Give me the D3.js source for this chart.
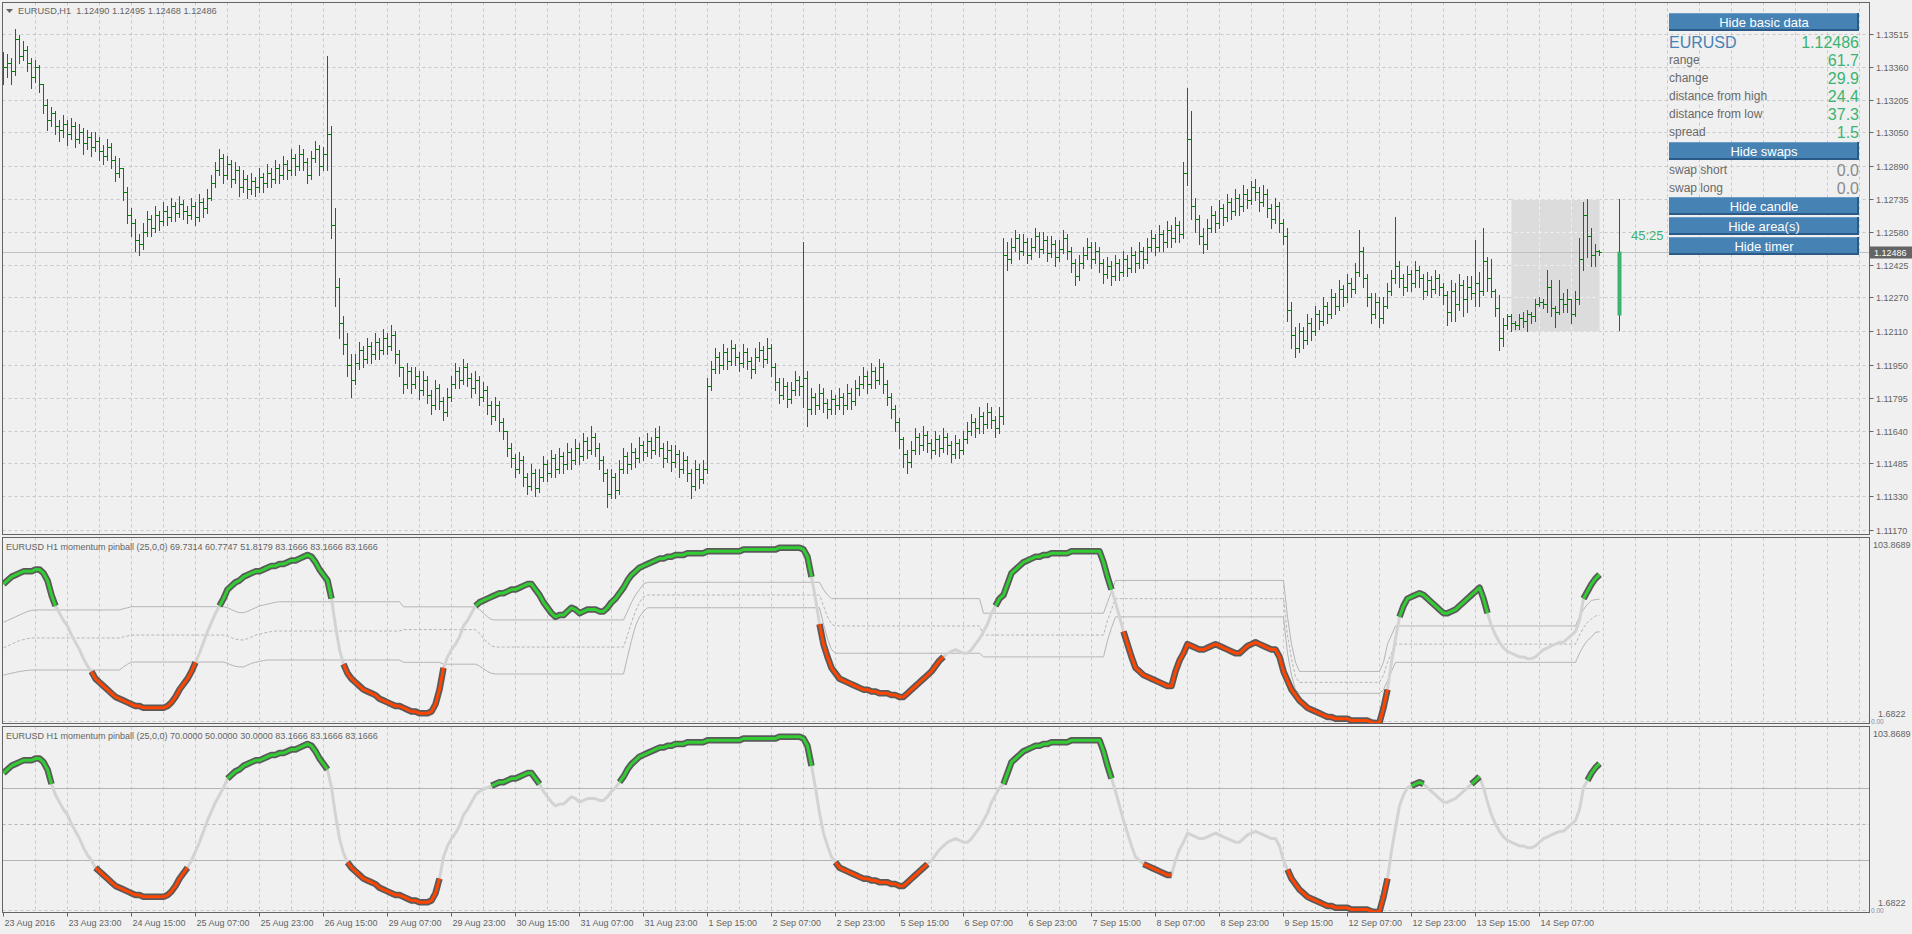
<!DOCTYPE html>
<html><head><meta charset="utf-8">
<script src="https://cdn.jsdelivr.net/npm/d3@7/dist/d3.min.js"></script>
<style>html,body{margin:0;padding:0;background:#F0F0F0;overflow:hidden}svg{display:block}text{font-family:"Liberation Sans",Arial,sans-serif;white-space:pre}</style>
</head><body><svg id="chart" width="1912" height="934"></svg>
<script>
const opens=[
1.1332,1.1336,1.1338,1.1334,1.1349,1.1341,1.1344,1.1338,1.1331,1.1336,
1.1328,1.1318,1.1311,1.1314,1.1308,1.1306,1.1309,1.1304,1.1308,1.1302,
1.1305,1.1300,1.1303,1.1298,1.1301,1.1296,1.1294,1.1298,1.1292,1.1286,
1.1288,1.1277,1.1266,1.1262,1.1254,1.1252,1.1258,1.1264,1.1260,1.1266,
1.1263,1.1268,1.1265,1.1270,1.1267,1.1271,1.1268,1.1266,1.1270,1.1265,
1.1272,1.1269,1.1274,1.1281,1.1287,1.1293,1.1285,1.1290,1.1283,1.1287,
1.1279,1.1283,1.1278,1.1282,1.1279,1.1284,1.1281,1.1286,1.1283,1.1288,
1.1285,1.1290,1.1287,1.1293,1.1289,1.1295,1.1291,1.1285,1.1293,1.1297,
1.1289,1.1295,1.1304,1.1261,1.1232,1.1215,1.1205,1.1195,1.1188,1.1196,
1.1202,1.1198,1.1204,1.1200,1.1206,1.1202,1.1208,1.1204,1.1209,1.1200,
1.1194,1.1186,1.1192,1.1186,1.1190,1.1183,1.1188,1.1181,1.1176,1.1184,
1.1178,1.1173,1.1180,1.1186,1.1192,1.1188,1.1194,1.1189,1.1184,1.1188,
1.1180,1.1183,1.1176,1.1171,1.1176,1.1168,1.1164,1.1156,1.1151,1.1146,
1.1150,1.1142,1.1138,1.1144,1.1137,1.1142,1.1148,1.1144,1.1151,1.1146,
1.1152,1.1148,1.1154,1.1150,1.1156,1.1152,1.1159,1.1155,1.1161,1.1156,
1.1150,1.1144,1.1134,1.1142,1.1136,1.1146,1.1152,1.1148,1.1154,1.1151,
1.1157,1.1154,1.1159,1.1155,1.1161,1.1156,1.1151,1.1155,1.1149,1.1153,
1.1146,1.1150,1.1144,1.1138,1.1146,1.1141,1.1146,1.1185,1.1193,1.1199,
1.1195,1.1201,1.1197,1.1203,1.1199,1.1196,1.1201,1.1197,1.1193,1.1199,
1.1202,1.1198,1.1203,1.1194,1.1187,1.1181,1.1185,1.1179,1.1183,1.1188,
1.1185,1.1189,1.1174,1.1180,1.1176,1.1182,1.1177,1.1174,1.1179,1.1176,
1.1180,1.1176,1.1182,1.1178,1.1184,1.1186,1.1190,1.1186,1.1192,1.1188,
1.1194,1.1186,1.1180,1.1174,1.1168,1.1160,1.1153,1.1149,1.1155,1.1161,
1.1157,1.1162,1.1158,1.1155,1.1160,1.1156,1.1161,1.1157,1.1153,1.1158,
1.1155,1.1160,1.1164,1.1168,1.1165,1.1171,1.1167,1.1173,1.1169,1.1165,
1.1171,1.1247,1.1245,1.1251,1.1255,1.1249,1.1253,1.1247,1.1251,1.1256,
1.1250,1.1254,1.1248,1.1252,1.1246,1.1250,1.1255,1.1249,1.1243,1.1237,
1.1243,1.1247,1.1251,1.1245,1.1249,1.1243,1.1238,1.1242,1.1237,1.1243,
1.1239,1.1245,1.1241,1.1247,1.1243,1.1249,1.1245,1.1251,1.1255,1.1251,
1.1257,1.1253,1.1259,1.1255,1.1261,1.1257,1.1286,1.1302,1.1270,1.1264,
1.1256,1.1252,1.1260,1.1266,1.1262,1.1269,1.1265,1.1272,1.1268,1.1274,
1.1270,1.1276,1.1273,1.1279,1.1277,1.1272,1.1276,1.1269,1.1264,1.1270,
1.1262,1.1256,1.1221,1.1209,1.1203,1.1211,1.1207,1.1215,1.1211,1.1219,
1.1216,1.1223,1.1219,1.1227,1.1223,1.1231,1.1227,1.1234,1.1231,1.1239,
1.1249,1.1236,1.1227,1.1219,1.1225,1.1217,1.1223,1.1230,1.1236,1.1242,
1.1236,1.1232,1.1238,1.1234,1.1240,1.1236,1.1230,1.1235,1.1231,1.1236,
1.1232,1.1228,1.1220,1.1230,1.1224,1.1233,1.1226,1.1232,1.1229,1.1234,
1.1230,1.1244,1.1236,1.1230,1.1222,1.1208,1.1214,1.1218,1.1215,1.1214,
1.1217,1.1216,1.1219,1.1218,1.1224,1.1225,1.1224,1.1232,1.1222,1.1220,
1.1226,1.1224,1.1226,1.1219,1.1226,1.1245,1.1266,1.1256,1.1247,1.1249];
const highs=[
1.1343,1.1342,1.1340,1.1354,1.1351,1.1348,1.1346,1.1340,1.1339,1.1337,
1.1328,1.1321,1.1317,1.1315,1.1311,1.1313,1.1311,1.1312,1.1310,1.1309,
1.1307,1.1306,1.1305,1.1305,1.1303,1.1299,1.1302,1.1300,1.1294,1.1293,
1.1288,1.1279,1.1269,1.1264,1.1257,1.1262,1.1268,1.1266,1.1270,1.1268,
1.1272,1.1270,1.1274,1.1272,1.1275,1.1273,1.1270,1.1274,1.1272,1.1276,
1.1274,1.1278,1.1285,1.1291,1.1297,1.1295,1.1294,1.1292,1.1291,1.1289,
1.1287,1.1285,1.1286,1.1284,1.1288,1.1286,1.1290,1.1288,1.1292,1.1290,
1.1294,1.1292,1.1297,1.1295,1.1299,1.1297,1.1293,1.1296,1.1301,1.1299,
1.1298,1.1341,1.1308,1.1269,1.1236,1.1218,1.1210,1.1200,1.1200,1.1206,
1.1204,1.1208,1.1206,1.1210,1.1208,1.1212,1.1210,1.1214,1.1211,1.1202,
1.1194,1.1196,1.1194,1.1194,1.1192,1.1192,1.1190,1.1183,1.1188,1.1186,
1.1180,1.1184,1.1190,1.1196,1.1194,1.1198,1.1196,1.1191,1.1192,1.1190,
1.1187,1.1185,1.1178,1.1180,1.1178,1.1170,1.1164,1.1158,1.1153,1.1154,
1.1152,1.1144,1.1148,1.1146,1.1146,1.1152,1.1150,1.1155,1.1153,1.1156,
1.1154,1.1158,1.1156,1.1160,1.1158,1.1163,1.1161,1.1166,1.1163,1.1158,
1.1152,1.1146,1.1146,1.1144,1.1150,1.1156,1.1154,1.1158,1.1156,1.1161,
1.1159,1.1163,1.1161,1.1165,1.1166,1.1158,1.1159,1.1157,1.1157,1.1155,
1.1154,1.1152,1.1146,1.1150,1.1148,1.1150,1.1189,1.1197,1.1203,1.1201,
1.1205,1.1203,1.1207,1.1205,1.1201,1.1205,1.1203,1.1199,1.1203,1.1206,
1.1204,1.1208,1.1205,1.1196,1.1189,1.1189,1.1187,1.1187,1.1192,1.1190,
1.1253,1.1192,1.1184,1.1182,1.1186,1.1184,1.1179,1.1183,1.1181,1.1184,
1.1182,1.1186,1.1184,1.1188,1.1190,1.1194,1.1192,1.1196,1.1194,1.1198,
1.1196,1.1188,1.1182,1.1176,1.1170,1.1161,1.1155,1.1159,1.1165,1.1163,
1.1166,1.1164,1.1160,1.1164,1.1162,1.1165,1.1163,1.1159,1.1162,1.1160,
1.1164,1.1168,1.1172,1.1170,1.1175,1.1173,1.1177,1.1175,1.1171,1.1175,
1.1255,1.1253,1.1255,1.1259,1.1257,1.1257,1.1255,1.1255,1.1260,1.1258,
1.1258,1.1256,1.1256,1.1254,1.1254,1.1259,1.1257,1.1251,1.1245,1.1247,
1.1251,1.1255,1.1253,1.1253,1.1251,1.1245,1.1246,1.1244,1.1247,1.1245,
1.1249,1.1247,1.1251,1.1249,1.1253,1.1251,1.1255,1.1259,1.1257,1.1261,
1.1259,1.1263,1.1261,1.1265,1.1263,1.1291,1.1326,1.1315,1.1274,1.1266,
1.1260,1.1264,1.1270,1.1268,1.1273,1.1271,1.1276,1.1274,1.1278,1.1276,
1.1280,1.1278,1.1282,1.1283,1.1279,1.1280,1.1278,1.1271,1.1274,1.1272,
1.1264,1.1260,1.1225,1.1213,1.1215,1.1213,1.1219,1.1217,1.1223,1.1221,
1.1227,1.1225,1.1231,1.1229,1.1235,1.1233,1.1238,1.1236,1.1243,1.1259,
1.1251,1.1238,1.1229,1.1229,1.1227,1.1227,1.1234,1.1240,1.1265,1.1244,
1.1238,1.1242,1.1240,1.1244,1.1242,1.1238,1.1239,1.1237,1.1240,1.1238,
1.1234,1.1230,1.1235,1.1234,1.1238,1.1235,1.1237,1.1237,1.1254,1.1239,
1.1260,1.1246,1.1245,1.1231,1.1228,1.1217,1.1219,1.1219,1.1216,1.1219,
1.1220,1.1221,1.1220,1.1226,1.1227,1.1226,1.1240,1.1235,1.1223,1.1235,
1.1229,1.1231,1.1226,1.1230,1.1255,1.1272,1.12735,1.1260,1.1252,1.12495];
const lows=[
1.1328,1.1331,1.1328,1.1332,1.1338,1.1339,1.1334,1.1326,1.1329,1.1324,
1.1314,1.1306,1.1308,1.1304,1.1301,1.1303,1.1299,1.1302,1.1298,1.1300,
1.1295,1.1297,1.1294,1.1296,1.1292,1.1290,1.1292,1.1288,1.1282,1.1284,
1.1273,1.1262,1.1256,1.1249,1.1247,1.1250,1.1256,1.1256,1.1258,1.1259,
1.1261,1.1261,1.1263,1.1263,1.1265,1.1264,1.1262,1.1264,1.1261,1.1263,
1.1265,1.1267,1.1273,1.1279,1.1285,1.1281,1.1283,1.1279,1.1281,1.1275,
1.1277,1.1274,1.1276,1.1275,1.1277,1.1277,1.1279,1.1279,1.1281,1.1281,
1.1283,1.1283,1.1285,1.1285,1.1287,1.1287,1.1281,1.1283,1.1291,1.1285,
1.1287,1.1287,1.1255,1.1223,1.1208,1.1200,1.1190,1.1180,1.1186,1.1193,
1.1194,1.1196,1.1196,1.1198,1.1198,1.1200,1.1200,1.1202,1.1196,1.1190,
1.1182,1.1184,1.1182,1.1184,1.1179,1.1181,1.1177,1.1172,1.1174,1.1174,
1.1169,1.1171,1.1178,1.1184,1.1184,1.1186,1.1185,1.1180,1.1182,1.1176,
1.1178,1.1172,1.1167,1.1169,1.1164,1.1160,1.1152,1.1147,1.1142,1.1144,
1.1138,1.1134,1.1136,1.1133,1.1135,1.1140,1.1140,1.1142,1.1142,1.1144,
1.1144,1.1146,1.1146,1.1148,1.1148,1.1150,1.1151,1.1153,1.1152,1.1146,
1.1140,1.1128,1.1132,1.1132,1.1134,1.1144,1.1144,1.1146,1.1147,1.1149,
1.1150,1.1152,1.1151,1.1153,1.1152,1.1147,1.1149,1.1145,1.1147,1.1142,
1.1144,1.1140,1.1132,1.1136,1.1137,1.1139,1.1144,1.1183,1.1191,1.1191,
1.1193,1.1193,1.1195,1.1195,1.1192,1.1194,1.1193,1.1189,1.1191,1.1197,
1.1194,1.1196,1.1190,1.1183,1.1177,1.1179,1.1175,1.1177,1.1181,1.1181,
1.1175,1.1166,1.1172,1.1172,1.1174,1.1173,1.1170,1.1172,1.1172,1.1174,
1.1172,1.1174,1.1174,1.1176,1.1181,1.1184,1.1182,1.1184,1.1184,1.1186,
1.1182,1.1176,1.1170,1.1164,1.1156,1.1147,1.1144,1.1147,1.1153,1.1153,
1.1155,1.1154,1.1151,1.1153,1.1152,1.1154,1.1153,1.1149,1.1151,1.1151,
1.1153,1.1158,1.1162,1.1161,1.1163,1.1163,1.1165,1.1165,1.1161,1.1163,
1.1167,1.1240,1.1243,1.1249,1.1245,1.1247,1.1243,1.1245,1.1249,1.1246,
1.1248,1.1244,1.1246,1.1242,1.1244,1.1248,1.1245,1.1239,1.1233,1.1235,
1.1241,1.1245,1.1241,1.1243,1.1239,1.1234,1.1236,1.1233,1.1235,1.1235,
1.1237,1.1237,1.1239,1.1239,1.1241,1.1241,1.1243,1.1249,1.1247,1.1249,
1.1249,1.1251,1.1251,1.1253,1.1253,1.1255,1.1280,1.1264,1.1258,1.1252,
1.1248,1.1250,1.1258,1.1258,1.1260,1.1261,1.1263,1.1264,1.1266,1.1266,
1.1268,1.1269,1.1271,1.1273,1.1268,1.1270,1.1265,1.1260,1.1262,1.1258,
1.1252,1.1216,1.1203,1.1199,1.1201,1.1203,1.1205,1.1207,1.1209,1.1212,
1.1214,1.1215,1.1217,1.1219,1.1221,1.1223,1.1225,1.1227,1.1229,1.1237,
1.1232,1.1223,1.1215,1.1217,1.1213,1.1215,1.1222,1.1228,1.1234,1.1232,
1.1228,1.1230,1.1230,1.1232,1.1232,1.1226,1.1228,1.1227,1.1229,1.1228,
1.1224,1.1214,1.1216,1.1216,1.1221,1.1218,1.1220,1.1226,1.1223,1.1223,
1.1228,1.1230,1.1227,1.1218,1.1202,1.1204,1.1212,1.1211,1.1212,1.1212,
1.1213,1.1211,1.1215,1.1216,1.1223,1.1222,1.1220,1.1218,1.1213,1.1219,
1.1220,1.1220,1.1215,1.1218,1.1224,1.1240,1.1246,1.1242,1.1242,1.12468];
const closes=[
1.1336,1.1338,1.1334,1.1349,1.1341,1.1344,1.1338,1.1331,1.1336,1.1328,
1.1318,1.1311,1.1314,1.1308,1.1306,1.1309,1.1304,1.1308,1.1302,1.1305,
1.1300,1.1303,1.1298,1.1301,1.1296,1.1294,1.1298,1.1292,1.1286,1.1288,
1.1277,1.1266,1.1262,1.1254,1.1252,1.1258,1.1264,1.1260,1.1266,1.1263,
1.1268,1.1265,1.1270,1.1267,1.1271,1.1268,1.1266,1.1270,1.1265,1.1272,
1.1269,1.1274,1.1281,1.1287,1.1293,1.1285,1.1290,1.1283,1.1287,1.1279,
1.1283,1.1278,1.1282,1.1279,1.1284,1.1281,1.1286,1.1283,1.1288,1.1285,
1.1290,1.1287,1.1293,1.1289,1.1295,1.1291,1.1285,1.1293,1.1297,1.1289,
1.1295,1.1304,1.1261,1.1232,1.1215,1.1205,1.1195,1.1188,1.1196,1.1202,
1.1198,1.1204,1.1200,1.1206,1.1202,1.1208,1.1204,1.1209,1.1200,1.1194,
1.1186,1.1192,1.1186,1.1190,1.1183,1.1188,1.1181,1.1176,1.1184,1.1178,
1.1173,1.1180,1.1186,1.1192,1.1188,1.1194,1.1189,1.1184,1.1188,1.1180,
1.1183,1.1176,1.1171,1.1176,1.1168,1.1164,1.1156,1.1151,1.1146,1.1150,
1.1142,1.1138,1.1144,1.1137,1.1142,1.1148,1.1144,1.1151,1.1146,1.1152,
1.1148,1.1154,1.1150,1.1156,1.1152,1.1159,1.1155,1.1161,1.1156,1.1150,
1.1144,1.1134,1.1142,1.1136,1.1146,1.1152,1.1148,1.1154,1.1151,1.1157,
1.1154,1.1159,1.1155,1.1161,1.1156,1.1151,1.1155,1.1149,1.1153,1.1146,
1.1150,1.1144,1.1138,1.1146,1.1141,1.1146,1.1185,1.1193,1.1199,1.1195,
1.1201,1.1197,1.1203,1.1199,1.1196,1.1201,1.1197,1.1193,1.1199,1.1202,
1.1198,1.1203,1.1194,1.1187,1.1181,1.1185,1.1179,1.1183,1.1188,1.1185,
1.1189,1.1174,1.1180,1.1176,1.1182,1.1177,1.1174,1.1179,1.1176,1.1180,
1.1176,1.1182,1.1178,1.1184,1.1186,1.1190,1.1186,1.1192,1.1188,1.1194,
1.1186,1.1180,1.1174,1.1168,1.1160,1.1153,1.1149,1.1155,1.1161,1.1157,
1.1162,1.1158,1.1155,1.1160,1.1156,1.1161,1.1157,1.1153,1.1158,1.1155,
1.1160,1.1164,1.1168,1.1165,1.1171,1.1167,1.1173,1.1169,1.1165,1.1171,
1.1247,1.1245,1.1251,1.1255,1.1249,1.1253,1.1247,1.1251,1.1256,1.1250,
1.1254,1.1248,1.1252,1.1246,1.1250,1.1255,1.1249,1.1243,1.1237,1.1243,
1.1247,1.1251,1.1245,1.1249,1.1243,1.1238,1.1242,1.1237,1.1243,1.1239,
1.1245,1.1241,1.1247,1.1243,1.1249,1.1245,1.1251,1.1255,1.1251,1.1257,
1.1253,1.1259,1.1255,1.1261,1.1257,1.1286,1.1302,1.1270,1.1264,1.1256,
1.1252,1.1260,1.1266,1.1262,1.1269,1.1265,1.1272,1.1268,1.1274,1.1270,
1.1276,1.1273,1.1279,1.1277,1.1272,1.1276,1.1269,1.1264,1.1270,1.1262,
1.1256,1.1221,1.1209,1.1203,1.1211,1.1207,1.1215,1.1211,1.1219,1.1216,
1.1223,1.1219,1.1227,1.1223,1.1231,1.1227,1.1234,1.1231,1.1239,1.1249,
1.1236,1.1227,1.1219,1.1225,1.1217,1.1223,1.1230,1.1236,1.1242,1.1236,
1.1232,1.1238,1.1234,1.1240,1.1236,1.1230,1.1235,1.1231,1.1236,1.1232,
1.1228,1.1220,1.1230,1.1224,1.1233,1.1226,1.1232,1.1229,1.1234,1.1230,
1.1244,1.1236,1.1230,1.1222,1.1208,1.1214,1.1218,1.1215,1.1214,1.1217,
1.1216,1.1219,1.1218,1.1224,1.1225,1.1224,1.1232,1.1222,1.1220,1.1226,
1.1224,1.1226,1.1219,1.1226,1.1245,1.1266,1.1256,1.1247,1.1249,1.12486];

const pinball=[
78,80,82,83,84,85,85,85,86,86, 84,80,72,66,62,58,55,50,46,42,
37,33,30,26,24,22,20,18,16,15, 14,13,12,11,11,10,10,10,10,10,
10,11,13,16,20,23,26,30,35,40, 46,52,57,62,66,70,75,77,79,80,
82,83,84,85,85,86,87,88,88,89, 89,90,91,91,92,93,94,93,90,86,
83,80,70,55,42,34,29,26,24,22, 20,19,18,17,15,14,13,12,11,11,
10,9,8,8,7,7,7,8,12,20, 32,38,42,45,49,55,58,62,66,68,
69,70,71,72,73,73,74,75,75,76, 77,78,78,75,72,68,65,62,60,61,
61,63,65,64,62,63,64,64,64,63, 63,65,68,70,73,76,80,83,85,87,
88,89,90,91,92,92,93,93,94,94, 94,95,95,95,95,95,96,96,96,96,
96,96,96,96,96,97,97,97,97,97, 97,97,97,97,98,98,98,98,98,98,
97,93,82,70,56,45,38,32,29,26, 25,24,23,22,21,20,20,19,19,18,
18,18,17,17,16,16,18,20,22,24, 26,28,30,33,36,38,40,41,42,41,
40,40,42,45,48,52,56,62,66,70, 72,78,84,86,88,90,91,92,93,93,
94,94,95,95,95,95,95,96,96,96, 96,96,96,96,96,90,82,75,68,60,
52,45,38,32,30,28,27,26,25,24, 23,22,22,30,36,40,45,44,43,42,
42,43,44,45,44,43,42,41,40,40, 42,44,45,46,45,44,43,42,42,38,
30,25,20,17,14,12,10,9,8,7, 6,5,5,4,4,4,4,3,3,3,
3,3,2,1.6822,2,10,20,35,48,60, 66,70,71,72,73,72,70,68,66,64,
62,62,63,64,66,68,70,72,74,76, 70,62,55,50,46,43,41,40,39,38,
38,37,37,38,40,42,43,44,45,46, 46,48,50,52,58,70,74,78,81,83.1666];

const bandUpper=[
57,58,59,60,61,62,63,63.5,63.8,63.8,
63.8,63.8,63.8,63.8,63.8,63.8,63.8,63.8,63.8,63.8,
63.8,63.8,63.8,63.8,63.8,63.8,63.8,63.8,63.8,63.8,
64.5,65,65.6,65.6,65.6,65.6,65.6,65.6,65.6,65.6,
65.6,65.6,65.6,65.6,65.6,65.6,65.6,65.6,65.6,65.6,
65.6,65.6,65.6,65.6,65.6,65.6,65,64,63,62.3,
62.3,63,64,65,66,66.5,67,67.5,68,68.3,
68.3,68.3,68.3,68.3,68.3,68.3,68.3,68.3,68.3,68.3,
68.3,68.3,68.3,68.3,68.3,68.3,68.3,68.3,68.3,68.3,
68.3,68.3,68.3,68.3,68.3,68.3,68.3,68.3,68.3,68.3,
65.5,65.5,65.5,65.5,65.5,65.5,65.5,65.5,65.5,65.5,
65.5,65.5,65.5,65.5,65.5,65.5,65.5,65.5,65.5,64,
62,60,58.5,58.3,58.3,58.3,58.3,58.3,58.3,58.3,
58.3,58.3,58.3,58.3,58.3,58.3,58.3,58.3,58.3,58.3,
58.3,58.3,58.3,58.3,58.3,58.3,58.3,58.3,58.3,58.3,
58.3,58.3,58.3,58.3,58.3,58.3,63,68,72,75,
78,79,79,79,79,79,79,79,79,79,
79,79,79,79,79,79,79,79,79,79,
79,79,79,79,79,79,79,79,79,79,
79,79,79,79,79,79,79,79,79,79,
79,79,79,79,79,75,72,70,70,70,
70,70,70,70,70,70,70,70,70,70,
70,70,70,70,70,70,70,70,70,70,
70,70,70,70,70,70,70,70,70,70,
70,70,70,70,70,62,62,62,62,62,
62,62,62,62,62,62,62,62,62,62,
62,62,62,62,62,62,62,62,62,62,
62,62,62,62,62,62,68,74,80,80,
80,80,80,80,80,80,80,80,80,80,
80,80,80,80,80,80,80,80,80,80,
80,80,80,80,80,80,80,80,80,80,
80,80,80,80,80,80,80,80,80,80,
80,60,45,35,30,30,30,30,30,30,
30,30,30,30,30,30,30,30,30,30,
30,30,30,30,30,35,45,50,55,55,
55,55,55,55,55,55,55,55,55,55,
55,55,55,55,55,55,55,55,55,55,
55,55,55,55,55,55,55,55,55,55,
55,55,55,55,55,55,55,55,55,55,
55,55,55,55,60,64,67,69,69.5,69.7314];
const bandMiddle=[
43,44,45,46,47,47.5,48,48.4,48.4,48.4,
48.4,48.4,48.4,48.4,48.4,48.4,48.4,48.4,48.4,48.4,
48.4,48.4,48.4,48.4,48.4,48.4,48.4,48.4,48.4,48.4,
49,49.5,50,50,50,50,50,50,50,50,
50,50,50,50,50,50,50,50,50,50,
50,50,50,50,50,50,49.5,48.5,47.8,47.3,
47.3,48,49,50,50.5,51,51.5,52,52.2,52.2,
52.2,52.2,52.2,52.2,52.2,52.2,52.2,52.2,52.2,52.2,
52.2,52.2,52.2,52.2,52.2,52.2,52.2,52.2,52.2,52.2,
52.2,52.2,52.2,52.2,52.2,52.2,52.2,52.2,52.2,52.2,
53,53,53,53,53,53,53,53,53,53,
53,53,53,53,53,53,53,53,53,51,
48,46,44,43.4,43.4,43.4,43.4,43.4,43.4,43.4,
43.4,43.4,43.4,43.4,43.4,43.4,43.4,43.4,43.4,43.4,
43.4,43.4,43.4,43.4,43.4,43.4,43.4,43.4,43.4,43.4,
43.4,43.4,43.4,43.4,43.4,43.4,50,57,63,68,
71,72,72,72,72,72,72,72,72,72,
72,72,72,72,72,72,72,72,72,72,
72,72,72,72,72,72,72,72,72,72,
72,72,72,72,72,72,72,72,72,72,
72,72,72,72,72,66,60,56,55,55,
55,55,55,55,55,55,55,55,55,55,
55,55,55,55,55,55,55,55,55,55,
55,55,55,55,55,55,55,55,55,55,
55,55,55,55,55,50,50,50,50,50,
50,50,50,50,50,50,50,50,50,50,
50,50,50,50,50,50,50,50,50,50,
50,50,50,50,50,50,58,64,70,70,
70,70,70,70,70,70,70,70,70,70,
70,70,70,70,70,70,70,70,70,70,
70,70,70,70,70,70,70,70,70,70,
70,70,70,70,70,70,70,70,70,70,
70,50,37,27,24,24,24,24,24,24,
24,24,24,24,24,24,24,24,24,24,
24,24,24,24,24,28,35,40,45,45,
45,45,45,45,45,45,45,45,45,45,
45,45,45,45,45,45,45,45,45,45,
45,45,45,45,45,45,45,45,45,45,
45,45,45,45,45,45,45,45,45,45,
45,45,45,45,50,54,57,59,60.5,60.7747];
const bandLower=[
28,28.5,29,29.5,30,30.3,30.6,30.8,30.8,30.8,
30.8,30.8,30.8,30.8,30.8,30.8,30.8,30.8,30.8,30.8,
30.8,30.8,30.8,30.8,30.8,30.8,30.8,30.8,30.8,30.8,
32.5,34,35.2,35.2,35.2,35.2,35.2,35.2,35.2,35.2,
35.2,35.2,35.2,35.2,35.2,35.2,35.2,35.2,35.2,35.2,
35.2,35.2,35.2,35.2,35.2,35.2,34.5,33.5,32.8,32.5,
32.5,33.5,34.5,35,35.5,36,36.3,36.3,36.3,36.3,
36.3,36.3,36.3,36.3,36.3,36.3,36.3,36.3,36.3,36.3,
36.3,36.3,36.3,36.3,36.3,36.3,36.3,36.3,36.3,36.3,
36.3,36.3,36.3,36.3,36.3,36.3,36.3,36.3,36.3,36.3,
35,35,35,35,35,35,35,35,35,35,
34,34,34,34,34,34,34,34,34,33,
31.5,30,29,28.6,28.6,28.6,28.6,28.6,28.6,28.6,
28.6,28.6,28.6,28.6,28.6,28.6,28.6,28.6,28.6,28.6,
28.6,28.6,28.6,28.6,28.6,28.6,28.6,28.6,28.6,28.6,
28.6,28.6,28.6,28.6,28.6,28.6,38,47,55,60,
63,65,65,65,65,65,65,65,65,65,
65,65,65,65,65,65,65,65,65,65,
65,65,65,65,65,65,65,65,65,65,
65,65,65,65,65,65,65,65,65,65,
65,65,65,65,65,56,48,42,40,40,
40,40,40,40,40,40,40,40,40,40,
40,40,40,40,40,40,40,40,40,40,
40,40,40,40,40,40,40,40,40,40,
40,40,40,40,40,38,38,38,38,38,
38,38,38,38,38,38,38,38,38,38,
38,38,38,38,38,38,38,38,38,38,
38,38,38,38,38,38,47,54,60,60,
60,60,60,60,60,60,60,60,60,60,
60,60,60,60,60,60,60,60,60,60,
60,60,60,60,60,60,60,60,60,60,
60,60,60,60,60,60,60,60,60,60,
60,40,28,20,18,18,18,18,18,18,
18,18,18,18,18,18,18,18,18,18,
18,18,18,18,18,20,25,30,35,35,
35,35,35,35,35,35,35,35,35,35,
35,35,35,35,35,35,35,35,35,35,
35,35,35,35,35,35,35,35,35,35,
35,35,35,35,35,35,35,35,35,35,
35,35,35,35,40,44,47,49,51.5,51.8179];

const priceTicks=[1.13515,1.13360,1.13205,1.13050,1.12890,1.12735,1.12580,1.12425,1.12270,1.12110,1.11950,1.11795,1.11640,1.11485,1.11330,1.11170];
const timeLabels=["23 Aug 2016","23 Aug 23:00","24 Aug 15:00","25 Aug 07:00","25 Aug 23:00","26 Aug 15:00","29 Aug 07:00","29 Aug 23:00","30 Aug 15:00","31 Aug 07:00","31 Aug 23:00","1 Sep 15:00","2 Sep 07:00","2 Sep 23:00","5 Sep 15:00","6 Sep 07:00","6 Sep 23:00","7 Sep 15:00","8 Sep 07:00","8 Sep 23:00","9 Sep 15:00","12 Sep 07:00","12 Sep 23:00","13 Sep 15:00","14 Sep 07:00"];
const timeLabelBars=[0,16,32,48,64,80,96,112,128,144,160,176,192,208,224,240,256,272,288,304,320,336,352,368,384];
const lastQuote=[1.12490,1.12495,1.12468,1.12486];
const dayCandle=[1.12184,1.12735,1.12110,1.12486];
const dayStartBar=377;
const levels2=[70,50,30];
const subRange=[1.6822,103.8689];
const sub1Title="EURUSD H1 momentum pinball (25,0,0) 69.7314 60.7747 51.8179 83.1666 83.1666 83.1666";
const sub2Title="EURUSD H1 momentum pinball (25,0,0) 70.0000 50.0000 30.0000 83.1666 83.1666 83.1666";
const infoSymbol=["EURUSD","1.12486"];
const infoRows=[["range","61.7"],["change","29.9"],["distance from high","24.4"],["distance from low","37.3"],["spread","1.5"]];
const swapRows=[["swap short","0.0"],["swap long","0.0"]];
const buttonTexts=["Hide basic data","Hide swaps","Hide candle","Hide area(s)","Hide timer"];
const timerText="45:25";

const svg=d3.select("#chart");
const FG="#646464", GRID="#C8C8C8";
const PX0=2.5, PX1=1869.5;
const P={main:{t:2.5,b:534.5},s1:{t:537.5,b:723.5},s2:{t:726.5,b:912.5}};
const x=d3.scaleLinear().domain([0,100]).range([3.5,403.5]);
const y=d3.scaleLinear().domain([1.11170,1.13515]).range([530,34]);
const y1=d3.scaleLinear().domain(subRange).range([723,537]);
const y2=d3.scaleLinear().domain(subRange).range([912,726]);
const cr=v=>Math.round(v)+0.5;

svg.append("rect").attr("width",1912).attr("height",934).attr("fill","#F0F0F0");
const defs=svg.append("defs");
Object.entries(P).forEach(([k,p])=>{
  defs.append("clipPath").attr("id","clip-"+k).append("rect").attr("x",PX0).attr("y",p.t).attr("width",PX1-PX0).attr("height",p.b-p.t);
});

const gm=svg.append("g").attr("clip-path","url(#clip-main)");
const dayH=d3.max(highs.slice(dayStartBar)), dayL=d3.min(lows.slice(dayStartBar));
const areaX=x(dayStartBar), areaW=x(highs.length-1)-x(dayStartBar);
gm.append("rect").attr("x",areaX).attr("y",y(dayH)).attr("width",areaW).attr("height",y(dayL)-y(dayH)).attr("fill","#DCDCDC");

const gridBars=d3.range(8,470,8).filter(b=>x(b)<PX1-1);
function vgrid(g,p,color){
  g.selectAll(null).data(gridBars).join("line").attr("x1",d=>x(d)).attr("x2",d=>x(d)).attr("y1",p.t).attr("y2",p.b)
   .attr("stroke",color).attr("stroke-dasharray","3,3");
}
function hgrid(g,color){
  g.selectAll(null).data(priceTicks).join("line").attr("x1",PX0).attr("x2",PX1).attr("y1",d=>cr(y(d))).attr("y2",d=>cr(y(d)))
   .attr("stroke",color).attr("stroke-dasharray","3,3");
}
vgrid(gm,P.main,GRID);
hgrid(gm,GRID);
defs.append("clipPath").attr("id","clip-area").append("rect").attr("x",areaX).attr("y",y(dayH)).attr("width",areaW).attr("height",y(dayL)-y(dayH));
const ga=gm.append("g").attr("clip-path","url(#clip-area)");
vgrid(ga,P.main,"#F4F4F4");
hgrid(ga,"#F4F4F4");

gm.append("line").attr("x1",PX0).attr("x2",PX1).attr("y1",cr(y(lastQuote[3]))).attr("y2",cr(y(lastQuote[3]))).attr("stroke","#C0C0C0");

const barPath=closes.map((c,i)=>{
  const cx=x(i);
  return `M${cx},${Math.round(y(highs[i]))}V${Math.round(y(lows[i]))+1}M${cx-2},${cr(y(opens[i]))}H${cx}M${cx},${cr(y(c))}H${cx+2.5}`;
}).join("");
gm.append("path").attr("d",barPath).attr("fill","none").attr("stroke","#008000").attr("stroke-width",1);

const cX=x(404);
gm.append("line").attr("x1",cX).attr("x2",cX).attr("y1",y(dayCandle[1])).attr("y2",y(dayCandle[2])).attr("stroke","#008000");
gm.append("rect").attr("x",cX-2).attr("width",4).attr("y",y(dayCandle[3])).attr("height",y(dayCandle[0])-y(dayCandle[3])).attr("fill","#3CB371");
svg.append("text").attr("x",1631).attr("y",235).attr("dy","0.35em").attr("font-size",13).attr("fill","#3CB371").text(timerText);

svg.append("path").attr("d","M6,9 L13,9 L9.5,13 Z").attr("fill",FG);
svg.append("text").attr("x",18).attr("y",11).attr("dy","0.35em").attr("font-size",9.2).attr("fill",FG).text(`EURUSD,H1  ${lastQuote.map(v=>v.toFixed(5)).join(" ")}`);

const bx=1669, bw=190;
function button(yTop,txt){
  const g=svg.append("g");
  g.append("rect").attr("x",bx).attr("y",yTop).attr("width",bw).attr("height",18).attr("fill","#4682B4");
  g.append("line").attr("x1",bx).attr("x2",bx+bw).attr("y1",yTop+0.5).attr("y2",yTop+0.5).attr("stroke","#6C9CC8");
  g.append("line").attr("x1",bx).attr("x2",bx+bw).attr("y1",yTop+17).attr("y2",yTop+17).attr("stroke","#2A5A88").attr("stroke-width",2);
  g.append("line").attr("x1",bx+bw-1).attr("x2",bx+bw-1).attr("y1",yTop).attr("y2",yTop+18).attr("stroke","#2A5A88").attr("stroke-width",2);
  g.append("text").attr("x",bx+bw/2).attr("y",yTop+9).attr("dy","0.36em").attr("text-anchor","middle").attr("font-size",13).attr("fill","#FFFFFF").text(txt);
}
const btnTops=[13,142,197,217,237];
buttonTexts.forEach((t,i)=>button(btnTops[i],t));
svg.append("text").attr("x",bx).attr("y",42).attr("dy","0.36em").attr("font-size",16).attr("fill","#4682B4").text(infoSymbol[0]);
svg.append("text").attr("x",bx+bw).attr("y",42).attr("dy","0.36em").attr("font-size",16).attr("text-anchor","end").attr("fill","#3CB371").text(infoSymbol[1]);
infoRows.forEach((r,i)=>{
  const yy=60+i*18;
  svg.append("text").attr("x",bx).attr("y",yy).attr("dy","0.36em").attr("font-size",12).attr("fill","#6A6A6A").text(r[0]);
  svg.append("text").attr("x",bx+bw).attr("y",yy).attr("dy","0.36em").attr("font-size",16).attr("text-anchor","end").attr("fill","#3CB371").text(r[1]);
});
swapRows.forEach((r,i)=>{
  const yy=170+i*18;
  svg.append("text").attr("x",bx).attr("y",yy).attr("dy","0.36em").attr("font-size",12).attr("fill","#6A6A6A").text(r[0]);
  svg.append("text").attr("x",bx+bw).attr("y",yy).attr("dy","0.36em").attr("font-size",16).attr("text-anchor","end").attr("fill","#8A8A8A").text(r[1]);
});

function drawPinball(g,ys,upArr,loArr){
  const line=d3.line().x(d=>x(d.i)).y(d=>ys(d.v));
  const pts=pinball.map((v,i)=>({i,v}));
  g.append("path").attr("d",line(pts)).attr("fill","none").attr("stroke","#D3D3D3").attr("stroke-width",3).attr("stroke-linejoin","round");
  const st=pinball.map((v,i)=>v>upArr[i]?1:(v<loArr[i]?-1:0));
  const runs=[];let s=0;
  for(let i=1;i<=st.length;i++){
    if(i===st.length||st[i]!==st[s]){ if(st[s]!==0&&i-1>s) runs.push({s:st[s],a:s,b:i-1}); s=i; }
  }
  runs.forEach(r=>{
    const seg=pts.slice(r.a,r.b+1);
    g.append("path").attr("d",line(seg)).attr("fill","none").attr("stroke","#5A5A5A").attr("stroke-width",6.5).attr("stroke-linejoin","round");
    g.append("path").attr("d",line(seg)).attr("fill","none").attr("stroke",r.s>0?"#32CD32":"#FF4500").attr("stroke-width",3).attr("stroke-linejoin","round");
  });
}
const g1=svg.append("g").attr("clip-path","url(#clip-s1)");
vgrid(g1,P.s1,GRID);
g1.append("line").attr("x1",PX0).attr("x2",PX1).attr("y1",P.s1.b-2).attr("y2",P.s1.b-2).attr("stroke",GRID).attr("stroke-dasharray","3,3");
const bl=ys=>d3.line().x((d,i)=>x(i)).y(d=>ys(d));
g1.append("path").attr("d",bl(y1)(bandUpper)).attr("fill","none").attr("stroke","#B4B4B4");
g1.append("path").attr("d",bl(y1)(bandMiddle)).attr("fill","none").attr("stroke","#B4B4B4").attr("stroke-dasharray","3,2");
g1.append("path").attr("d",bl(y1)(bandLower)).attr("fill","none").attr("stroke","#B4B4B4");
drawPinball(g1,y1,bandUpper,bandLower);

const g2=svg.append("g").attr("clip-path","url(#clip-s2)");
vgrid(g2,P.s2,GRID);
g2.append("line").attr("x1",PX0).attr("x2",PX1).attr("y1",P.s2.b-2).attr("y2",P.s2.b-2).attr("stroke",GRID).attr("stroke-dasharray","3,3");
levels2.forEach((lv,i)=>{
  g2.append("line").attr("x1",PX0).attr("x2",PX1).attr("y1",cr(y2(lv))).attr("y2",cr(y2(lv))).attr("stroke","#B4B4B4").attr("stroke-dasharray",i===1?"3,3":null);
});
drawPinball(g2,y2,pinball.map(()=>levels2[0]),pinball.map(()=>levels2[2]));

Object.values(P).forEach(p=>{
  svg.append("rect").attr("x",PX0).attr("y",p.t).attr("width",PX1-PX0).attr("height",p.b-p.t).attr("fill","none").attr("stroke",FG);
});
svg.append("text").attr("x",6).attr("y",P.s1.t+9).attr("dy","0.35em").attr("font-size",9).attr("fill",FG).text(sub1Title);
svg.append("text").attr("x",6).attr("y",P.s2.t+9).attr("dy","0.35em").attr("font-size",9).attr("fill",FG).text(sub2Title);

const ax=svg.append("g");
priceTicks.forEach(t=>{
  const yy=cr(y(t));
  ax.append("line").attr("x1",PX1).attr("x2",PX1+4).attr("y1",yy).attr("y2",yy).attr("stroke",FG);
  ax.append("text").attr("x",1876).attr("y",yy).attr("dy","0.35em").attr("font-size",9).attr("fill",FG).text(t.toFixed(5));
});
const yq=cr(y(lastQuote[3]));
ax.append("rect").attr("x",1870).attr("y",yq-6).attr("width",42).attr("height",12).attr("fill","#646464");
ax.append("text").attr("x",1874).attr("y",yq).attr("dy","0.35em").attr("font-size",9).attr("fill","#FFFFFF").text(lastQuote[3].toFixed(5));
[P.s1,P.s2].forEach(p=>{
  ax.append("text").attr("x",1873).attr("y",p.t+7).attr("dy","0.35em").attr("font-size",9).attr("fill",FG).text(subRange[1].toFixed(4));
  ax.append("text").attr("x",1878).attr("y",p.b-10).attr("dy","0.35em").attr("font-size",9).attr("fill",FG).text(subRange[0].toFixed(4));
  ax.append("text").attr("x",1871).attr("y",p.b-1.5).attr("dy","0.35em").attr("font-size",6.5).attr("fill","#7F8FAF").text((0).toFixed(2));
});
timeLabelBars.forEach((b,i)=>{
  const xx=x(b);
  ax.append("line").attr("x1",xx).attr("x2",xx).attr("y1",P.s2.b).attr("y2",P.s2.b+4).attr("stroke",FG);
  ax.append("text").attr("x",xx+1).attr("y",923).attr("dy","0.35em").attr("font-size",9).attr("fill",FG).text(timeLabels[i]);
});
</script></body></html>
